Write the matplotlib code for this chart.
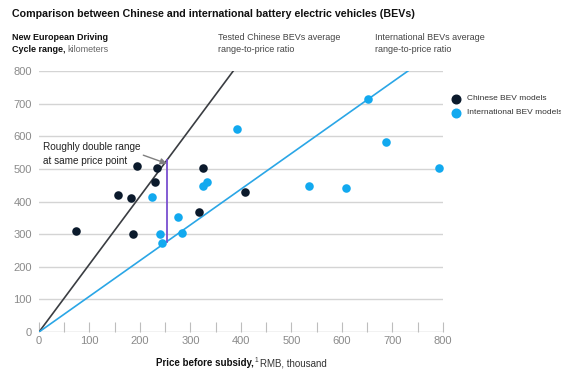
import matplotlib
matplotlib.use("Agg")
import matplotlib.pyplot as plt
import numpy as np

plt.rcParams['font.family'] = ['Liberation Sans', 'DejaVu Sans']

# Chinese BEV models: price before subsidy (RMB thousand), NEDC range (km)
cn_price = [73, 156, 182, 187, 194, 229, 233, 316, 325, 407]
cn_range = [311, 420, 410, 301, 509, 459, 502, 369, 502, 430]

# International BEV models
intl_price = [224, 239, 244, 276, 284, 324, 332, 392, 535, 607, 651, 688, 792]
intl_range = [413, 301, 272, 354, 303, 446, 459, 622, 446, 442, 715, 582, 502]

# Average range-to-price ratios (km per RMB thousand)
cn_ratio = 2.08
intl_ratio = 1.095

# Price point used for the comparison callout
compare_price = 253

x_ticks = [0, 100, 200, 300, 400, 500, 600, 700, 800]
y_ticks = [0, 100, 200, 300, 400, 500, 600, 700, 800]

W, H = 561, 372
fig = plt.figure(figsize=(W / 100, H / 100), dpi=100)
ax = fig.add_axes([39 / W, 1 - 332 / H, (443 - 39) / W, (332 - 71) / H])

navy = '#0b1a2c'
sky = '#12a9ef'
grid_c = '#d4d4d4'
tick_c = '#8a8a8a'

ax.set_xlim(0, 800)
ax.set_ylim(0, 800)
for s in ax.spines.values():
    s.set_visible(False)
for yv in y_ticks[1:]:
    ax.axhline(yv, color=grid_c, lw=1.0, zorder=0)
ax.axhline(0, color='#bdbdbd', lw=1.0, zorder=0)

ax.set_xticks(x_ticks)
ax.set_xticks(np.arange(50, 800, 100), minor=True)
ax.set_yticks(y_ticks)
ax.tick_params(axis='x', which='both', direction='in', length=7, width=0.8,
               color='#bdbdbd', labelsize=8, labelcolor=tick_c, pad=3)
ax.tick_params(axis='y', length=0, labelsize=8, labelcolor=tick_c, pad=5)

# Average ratio lines through the origin, clipped at the top of the chart
xs_cn = np.array([0, 800 / cn_ratio])
ax.plot(xs_cn, cn_ratio * xs_cn, color='#3a3d42', lw=1.2, zorder=2)
xs_in = np.array([0, 800 / intl_ratio])
ax.plot(xs_in, intl_ratio * xs_in, color='#2aa6e6', lw=1.2, zorder=2)

# Gap between the two ratios at the same price
ax.plot([compare_price, compare_price],
        [intl_ratio * compare_price, cn_ratio * compare_price],
        color='#7a4fd0', lw=1.3, zorder=3)

ax.scatter(cn_price, cn_range, s=38, color=navy, zorder=4, linewidths=0)
ax.scatter(intl_price, intl_range, s=38, color=sky, zorder=4, linewidths=0)

ax.annotate('Roughly double range\nat same price point',
            xy=(compare_price, cn_ratio * compare_price - 10),
            xytext=(8, 545), fontsize=7.2, color='#222222',
            va='center', ha='left', linespacing=1.45,
            arrowprops=dict(arrowstyle='-|>', color='#7f7f7f', lw=1.0,
                            shrinkA=0, shrinkB=0, mutation_scale=9,
                            relpos=(1.0, 0.5)), zorder=5)

# Title and axis captions
fig.text(12 / W, 1 - 14 / H,
         'Comparison between Chinese and international battery electric vehicles (BEVs)',
         fontsize=7.7, fontweight='bold', color='#111111', va='center', ha='left')
fig.text(12 / W, 1 - 37 / H, 'New European Driving', fontsize=6.5,
         fontweight='bold', color='#111111', va='center')
t = fig.text(12 / W, 1 - 50 / H, 'Cycle range,', fontsize=6.5,
             fontweight='bold', color='#111111', va='center')
fig.canvas.draw()
bb = t.get_window_extent()
fig.text((bb.x1 + 2) / W, 1 - 50 / H, 'kilometers', fontsize=6.5,
         color='#666666', va='center')

fig.text(218 / W, 1 - 43.5 / H, 'Tested Chinese BEVs average\nrange-to-price ratio',
         fontsize=6.5, color='#444444', va='center', linespacing=1.5)
fig.text(375 / W, 1 - 43.5 / H, 'International BEVs average\nrange-to-price ratio',
         fontsize=6.5, color='#444444', va='center', linespacing=1.5)

# Legend
lx = 456 / W
fig.add_artist(plt.Line2D([lx], [1 - 99 / H], marker='o', ms=6.2, color=navy,
                          lw=0, transform=fig.transFigure))
fig.add_artist(plt.Line2D([lx], [1 - 113 / H], marker='o', ms=6.2, color=sky,
                          lw=0, transform=fig.transFigure))
fig.text(467 / W, 1 - 99 / H, 'Chinese BEV models', fontsize=6.0,
         color='#333333', va='center')
fig.text(467 / W, 1 - 113 / H, 'International BEV models', fontsize=6.0,
         color='#333333', va='center')

# X caption: bold lead, superscript note marker, regular unit
x0 = 156 / W
yb = 1 - 363 / H
t1 = fig.text(x0, yb, 'Price before subsidy,', fontsize=7.0, fontweight='bold',
              color='#111111', va='center')
fig.canvas.draw()
b1 = t1.get_window_extent()
t2 = fig.text((b1.x1 + 0.5) / W, yb + 3 / H, '1', fontsize=4.8, color='#333333',
              va='center')
fig.canvas.draw()
b2 = t2.get_window_extent()
fig.text((b2.x1 + 2) / W, yb, 'RMB, thousand', fontsize=7.0, color='#333333',
         va='center')

fig.savefig('out.png', dpi=100)
